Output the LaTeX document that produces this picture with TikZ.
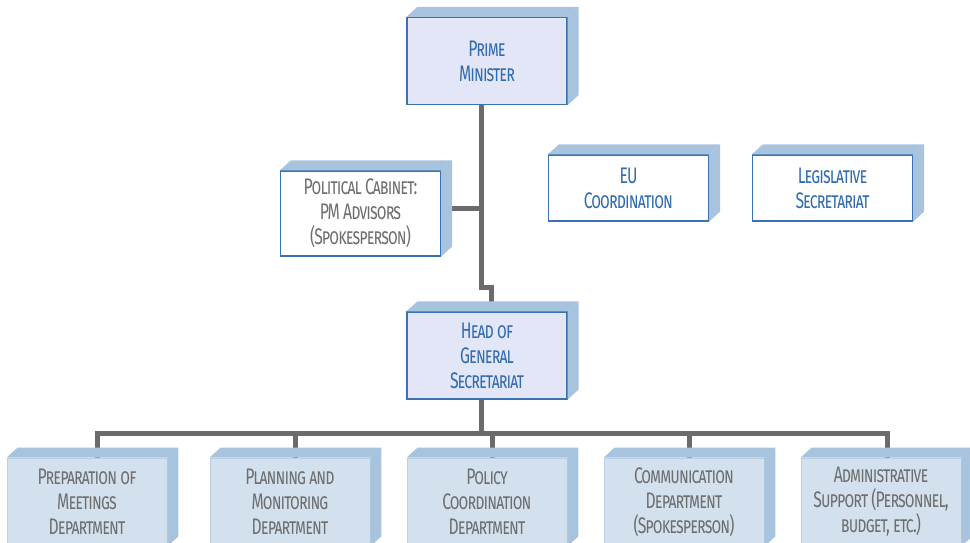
\documentclass[tikz,border=0pt]{standalone}
\usepackage{fontspec}
\setmainfont{Fira Sans}[FakeStretch=0.7, LetterSpace=-4]
\usetikzlibrary{backgrounds}
\definecolor{conncol}{HTML}{6B6B6B}
\definecolor{edgeblue}{HTML}{3C72B4}
\definecolor{depthblue}{HTML}{A7C3DD}
\definecolor{lavender}{HTML}{E2E6F6}
\definecolor{lightblue}{HTML}{D3E1EE}
\definecolor{lightedge}{HTML}{BBCFE3}
\definecolor{txtblue}{HTML}{2F6BB0}
\definecolor{txtgray}{HTML}{6E6E6E}
\newcommand\dpx{11}
\newcommand\dpy{-10}
\newcommand\depthof[2]{%
  \fill[#2] (#1.north west) -- ++(\dpx,\dpy) -- ([shift={(\dpx,\dpy)}]#1.north east) -- (#1.north east) -- cycle;
  \fill[#2] (#1.north east) -- ++(\dpx,\dpy) -- ([shift={(\dpx,\dpy)}]#1.south east) -- (#1.south east) -- cycle;}
\tikzset{
  orgbox/.style={rectangle, minimum width=160pt, align=center, inner sep=0pt,
    font=\fontsize{22.5}{25}\selectfont\scshape},
  topbox/.style={orgbox, draw=edgeblue, line width=1.2pt, fill=lavender, text=txtblue, minimum height=87pt},
  whitebox/.style={orgbox, draw=edgeblue, line width=1.2pt, fill=white},
  deptbox/.style={orgbox, draw=lightedge, line width=0.8pt, fill=lightblue, text=txtgray, minimum height=88pt},
  conn/.style={draw=conncol, line width=5pt, line join=miter}
}
\begin{document}
\begin{tikzpicture}[x=1pt,y=-1pt]
\useasboundingbox (0,0) rectangle (970,543);
\clip (0,0) rectangle (970,543);
% nodes
\node[topbox] (pm) at (487,61) {Prime\\Minister};
\node[whitebox, text=txtgray, minimum height=85pt] (cab) at (360.5,213.5) {Political Cabinet:\\PM Advisors\\(Spokesperson)};
\node[whitebox, text=txtblue, minimum height=66pt] (eu) at (628.5,188) {EU\\Coordination};
\node[whitebox, text=txtblue, minimum height=66pt] (leg) at (832.5,188) {Legislative\\Secretariat};
\node[topbox] (head) at (487,355.5) {Head of\\General\\Secretariat};
\node[deptbox] (d1) at (87,502) {Preparation of\\Meetings\\Department};
\node[deptbox] (d2) at (290,502) {Planning and\\Monitoring\\Department};
\node[deptbox] (d3) at (487,502) {Policy\\Coordination\\Department};
\node[deptbox] (d4) at (684,502) {Communication\\Department\\(Spokesperson)};
\node[deptbox] (d5) at (881,502) {Administrative\\Support (Personnel,\\budget, etc.)};
% depth faces
\depthof{pm}{depthblue}
\depthof{cab}{depthblue}
\depthof{eu}{depthblue}
\depthof{leg}{depthblue}
\depthof{head}{depthblue}
\depthof{d1}{depthblue}
\depthof{d2}{depthblue}
\depthof{d3}{depthblue}
\depthof{d4}{depthblue}
\depthof{d5}{depthblue}
% connectors
\coordinate (j1) at (481,287);
\coordinate (j2) at (491,287);
\coordinate (cabj) at (481,208);
\coordinate (b1) at (97,433);
\coordinate (b2) at (295,433);
\coordinate (b3) at (492,433);
\coordinate (b4) at (689,433);
\coordinate (b5) at (887,433);
\coordinate (hb) at (481,433);
\begin{scope}[on background layer]
\draw[conn] (pm.south -| j1) -- (j1) -- (j2) -- (head.north -| j2);
\draw[conn] (cab.east |- cabj) -- (cabj);
\draw[conn] (head.south -| hb) -- (hb);
\draw[conn] (d1.north -| b1) -- (b1) -- (b5) -- (d5.north -| b5);
\draw[conn] (b2) -- (d2.north -| b2);
\draw[conn] (b3) -- (d3.north -| b3);
\draw[conn] (b4) -- (d4.north -| b4);
\end{scope}
\end{tikzpicture}
\end{document}
